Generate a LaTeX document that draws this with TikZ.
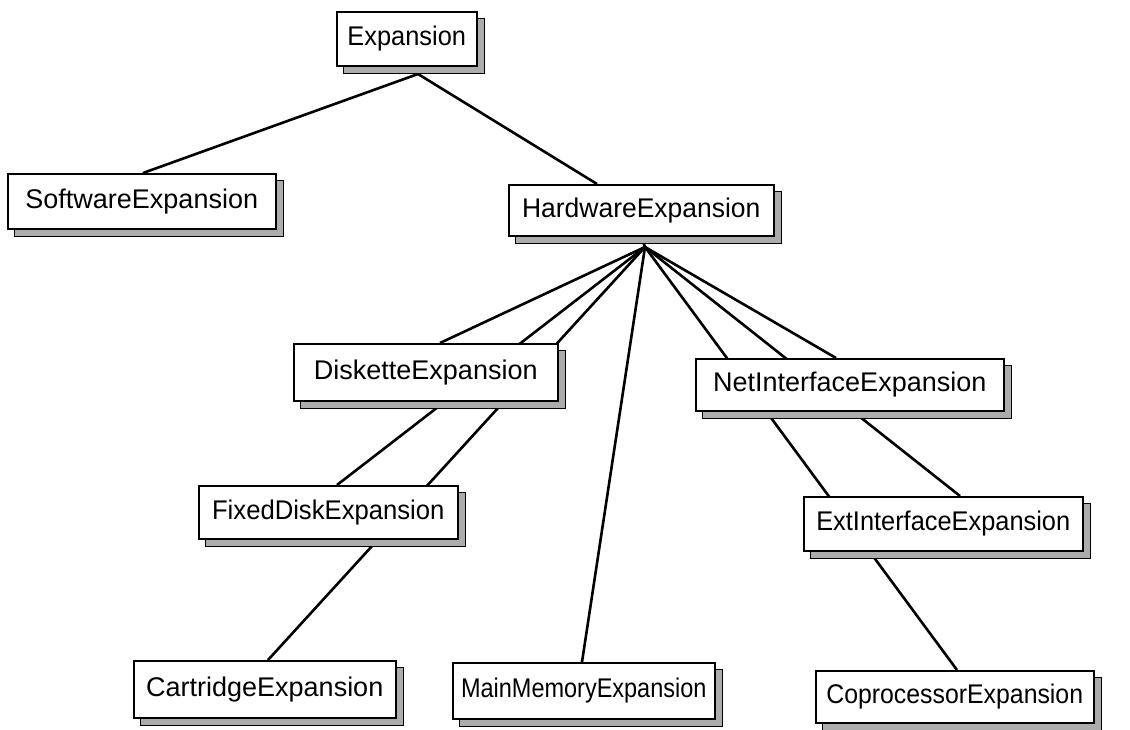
\documentclass[tikz,border=0pt]{standalone}
\usepackage{fontspec}
\setmainfont{Liberation Sans}
\pgfdeclarelayer{paper}
\pgfdeclarelayer{links}
\pgfdeclarelayer{shades}
\pgfsetlayers{paper,links,shades,main}
% label squeezed horizontally to sit inside its box
\newcommand{\hsq}[2]{\scalebox{#1}[1]{#2}}
\begin{document}
\begin{tikzpicture}[x=1pt,y=-1pt,
  cls/.style 2 args={draw=black, line width=1.5pt, fill=white, anchor=north west,
    font=\fontsize{27}{30}\selectfont, inner sep=0pt,
    minimum width=#1pt, minimum height=#2pt},
  link/.style={line width=2.6pt},
  shade/.style={fill=gray!65, draw=black, line width=0.8pt}]

\begin{pgfonlayer}{paper}
  \fill[white] (0,0) rectangle (1130,729);
\end{pgfonlayer}
\useasboundingbox (0,0) rectangle (1130,729);

% class boxes
\node[cls={140}{54}] (exp)   at (336,11)  {\hsq{0.94}{Expansion}};
\node[cls={268}{55}] (sw)    at (7,173)   {\hsq{1.0}{SoftwareExpansion}};
\node[cls={265}{51}] (hw)    at (508,184) {\hsq{0.98}{HardwareExpansion}};
\node[cls={264}{57}] (disk)  at (293,343) {\hsq{1.0}{DisketteExpansion}};
\node[cls={308}{52}] (net)   at (695,358) {\hsq{1.0}{NetInterfaceExpansion}};
\node[cls={259}{53}] (fixed) at (198,485) {\hsq{0.95}{FixedDiskExpansion}};
\node[cls={279}{54}] (ext)   at (803,496) {\hsq{0.94}{ExtInterfaceExpansion}};
\node[cls={262}{57}] (cart)  at (133,660) {\hsq{1.0}{CartridgeExpansion}};
\node[cls={262}{56}] (mem)   at (452,662) {\hsq{0.87}{MainMemoryExpansion}};
\node[cls={278}{52}] (cop)   at (815,670) {\hsq{0.92}{CoprocessorExpansion}};

% drop shadows behind the boxes
\begin{pgfonlayer}{shades}
  \foreach \n in {exp,sw,hw,disk,net,fixed,ext,cart,mem,cop}
    \filldraw[shade] ([shift={(7,7)}]\n.north west) rectangle ([shift={(7,7)}]\n.south east);
\end{pgfonlayer}

% inheritance links, all from the parent's lower edge to the child's top
\begin{pgfonlayer}{links}
  \coordinate (expfoot) at (418,74);
  \coordinate (hwfoot)  at (645,247);
  \draw[link] (exp.south) -- (expfoot);
  \draw[link] (hw.south) -- (hwfoot);
  \draw[link] (expfoot) -- ([xshift=136pt]sw.north west);
  \draw[link] (expfoot) -- ([xshift=89pt]hw.north west);
  \draw[link] (hwfoot) -- ([xshift=147pt]disk.north west);
  \draw[link] (hwfoot) -- ([xshift=139pt]fixed.north west);
  \draw[link] (hwfoot) -- ([xshift=135pt]cart.north west);
  \draw[link] (hwfoot) -- ([xshift=130pt]mem.north west);
  \draw[link] (hwfoot) -- ([xshift=141pt]net.north west);
  \draw[link] (hwfoot) -- ([xshift=157pt]ext.north west);
  \draw[link] (hwfoot) -- ([xshift=142pt]cop.north west);
\end{pgfonlayer}
\end{tikzpicture}
\end{document}
